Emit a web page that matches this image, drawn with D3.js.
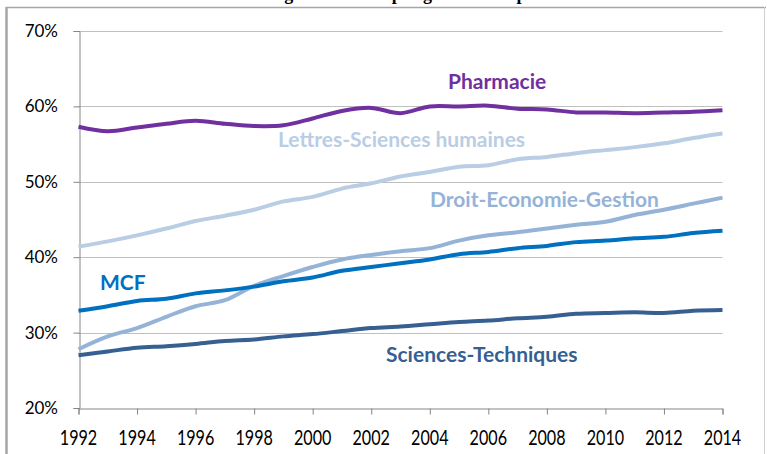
<!DOCTYPE html>
<html lang="fr">
<head>
<meta charset="UTF-8">
<title>Part des femmes</title>
<script src="https://d3js.org/d3.v7.min.js"></script>
<style>
  body { margin: 0; background: #fff; }
  svg { display: block; }
</style>
</head>
<body>
<div id="chart"></div>
<script>
// data (share of women, %)
var years = d3.range(1992, 2015);
var pharmacie = [57.3, 56.7, 57.2, 57.7, 58.1, 57.7, 57.4, 57.5, 58.4, 59.4, 59.8, 59.1,
                 60.0, 60.0, 60.1, 59.7, 59.6, 59.2, 59.2, 59.1, 59.2, 59.3, 59.5];
var lettres = [41.4, 42.1, 42.9, 43.8, 44.8, 45.5, 46.3, 47.4, 48.0, 49.1, 49.8, 50.7,
               51.3, 52.0, 52.2, 53.0, 53.3, 53.8, 54.2, 54.6, 55.1, 55.8, 56.4];
var droit = [27.8, 29.5, 30.6, 32.1, 33.5, 34.3, 36.2, 37.5, 38.7, 39.7, 40.3, 40.8,
             41.2, 42.2, 42.9, 43.3, 43.8, 44.3, 44.7, 45.6, 46.3, 47.1, 47.9];
var mcf = [32.9, 33.5, 34.2, 34.5, 35.2, 35.6, 36.1, 36.8, 37.3, 38.2, 38.7, 39.2,
           39.7, 40.4, 40.7, 41.2, 41.5, 42.0, 42.2, 42.5, 42.7, 43.2, 43.5];
var sciences = [27.0, 27.5, 28.0, 28.2, 28.5, 28.9, 29.1, 29.5, 29.8, 30.2, 30.6, 30.8,
                31.1, 31.4, 31.6, 31.9, 32.1, 32.5, 32.6, 32.7, 32.6, 32.9, 33.0];
var yTicks = [20, 30, 40, 50, 60, 70];
var xTicks = d3.range(1992, 2015, 2);

var width = 767, height = 454;

var svg = d3.select("#chart").append("svg")
    .attr("width", width)
    .attr("height", height);

// outer frame (page border of the original document)
svg.append("line").attr("x1", 6).attr("x2", 766).attr("y1", 7.5).attr("y2", 7.5)
    .attr("stroke", "#a6a6a6").attr("stroke-width", 1.5);
svg.append("line").attr("x1", 6.5).attr("x2", 6.5).attr("y1", 7).attr("y2", height)
    .attr("stroke", "#a6a6a6").attr("stroke-width", 2.5);
svg.append("line").attr("x1", 764.5).attr("x2", 764.5).attr("y1", 7).attr("y2", height)
    .attr("stroke", "#d0d0d0").attr("stroke-width", 1);

// title of the page, cut off by the top edge as in the original
svg.append("text")
    .attr("x", 380).attr("y", 0)
    .attr("text-anchor", "middle")
    .style("font-family", "Liberation Serif")
    .style("font-weight", "bold")
    .style("font-size", "18px")
    .style("fill", "#000")
    .text("Pourcentage de femmes par grande discipline");

var x = d3.scaleLinear().domain([1992, 2014]).range([78.5, 722.5]);
var y = d3.scaleLinear().domain([20, 70]).range([408, 31]);

// gridlines
svg.append("g")
  .selectAll("line")
  .data(yTicks.slice(1))
  .enter().append("line")
    .attr("x1", x(1992)).attr("x2", x(2014))
    .attr("y1", function(d) { return Math.round(y(d)) + 0.5; })
    .attr("y2", function(d) { return Math.round(y(d)) + 0.5; })
    .attr("stroke", "#c0c0c0").attr("stroke-width", 1.2);

// y axis
svg.append("g")
    .attr("transform", "translate(" + (Math.round(x(1992)) + 0.5) + ",0)")
    .call(d3.axisLeft(y).tickValues(yTicks).tickSize(6).tickFormat(""))
    .call(function(g) {
      g.selectAll("path, line").attr("stroke", "#868686");
    });

svg.append("g")
  .selectAll("text")
  .data(yTicks)
  .enter().append("text")
    .attr("x", 58)
    .attr("y", function(d) { return y(d) + 6; })
    .attr("text-anchor", "end")
    .style("font-family", "Lato")
    .style("font-size", "17px")
    .style("fill", "#000")
    .text(function(d) { return d + "%"; });

// x axis
svg.append("g")
    .attr("transform", "translate(0," + (Math.round(y(20)) + 0.5) + ")")
    .call(d3.axisBottom(x).tickValues(xTicks).tickSize(6).tickFormat(""))
    .call(function(g) {
      g.selectAll("path, line").attr("stroke", "#868686");
    });

svg.append("g")
  .selectAll("text")
  .data(xTicks)
  .enter().append("text")
    .attr("transform", function(d) { return "translate(" + x(d) + ",445) scale(0.95,1.2)"; })
    .attr("text-anchor", "middle")
    .style("font-family", "Lato")
    .style("font-size", "17px")
    .style("fill", "#000")
    .text(function(d) { return d; });

// series
var series = [
  { name: "Sciences-Techniques", values: sciences, color: "#376092", lx: 386, ly: 362 },
  { name: "Droit-Economie-Gestion", values: droit, color: "#95b3d7", lx: 430, ly: 207 },
  { name: "MCF", values: mcf, color: "#0070c0", lx: 100, ly: 290 },
  { name: "Lettres-Sciences humaines", values: lettres, color: "#b9cde5", lx: 278, ly: 147 },
  { name: "Pharmacie", values: pharmacie, color: "#7030a0", lx: 448, ly: 89 }
];

var line = d3.line()
    .x(function(d, i) { return x(years[i]); })
    .y(function(d) { return y(d); })
    .curve(d3.curveCatmullRom.alpha(0.5));

svg.append("g")
  .selectAll("path")
  .data(series)
  .enter().append("path")
    .attr("d", function(s) { return line(s.values); })
    .attr("fill", "none")
    .attr("stroke", function(s) { return s.color; })
    .attr("stroke-width", 4)
    .attr("stroke-linecap", "butt");

svg.append("g")
  .selectAll("text")
  .data(series)
  .enter().append("text")
    .attr("x", function(s) { return s.lx; })
    .attr("y", function(s) { return s.ly; })
    .style("font-family", "Lato")
    .style("font-weight", "bold")
    .style("font-size", "21px")
    .style("fill", function(s) { return s.color; })
    .text(function(s) { return s.name; });
</script>
</body>
</html>
